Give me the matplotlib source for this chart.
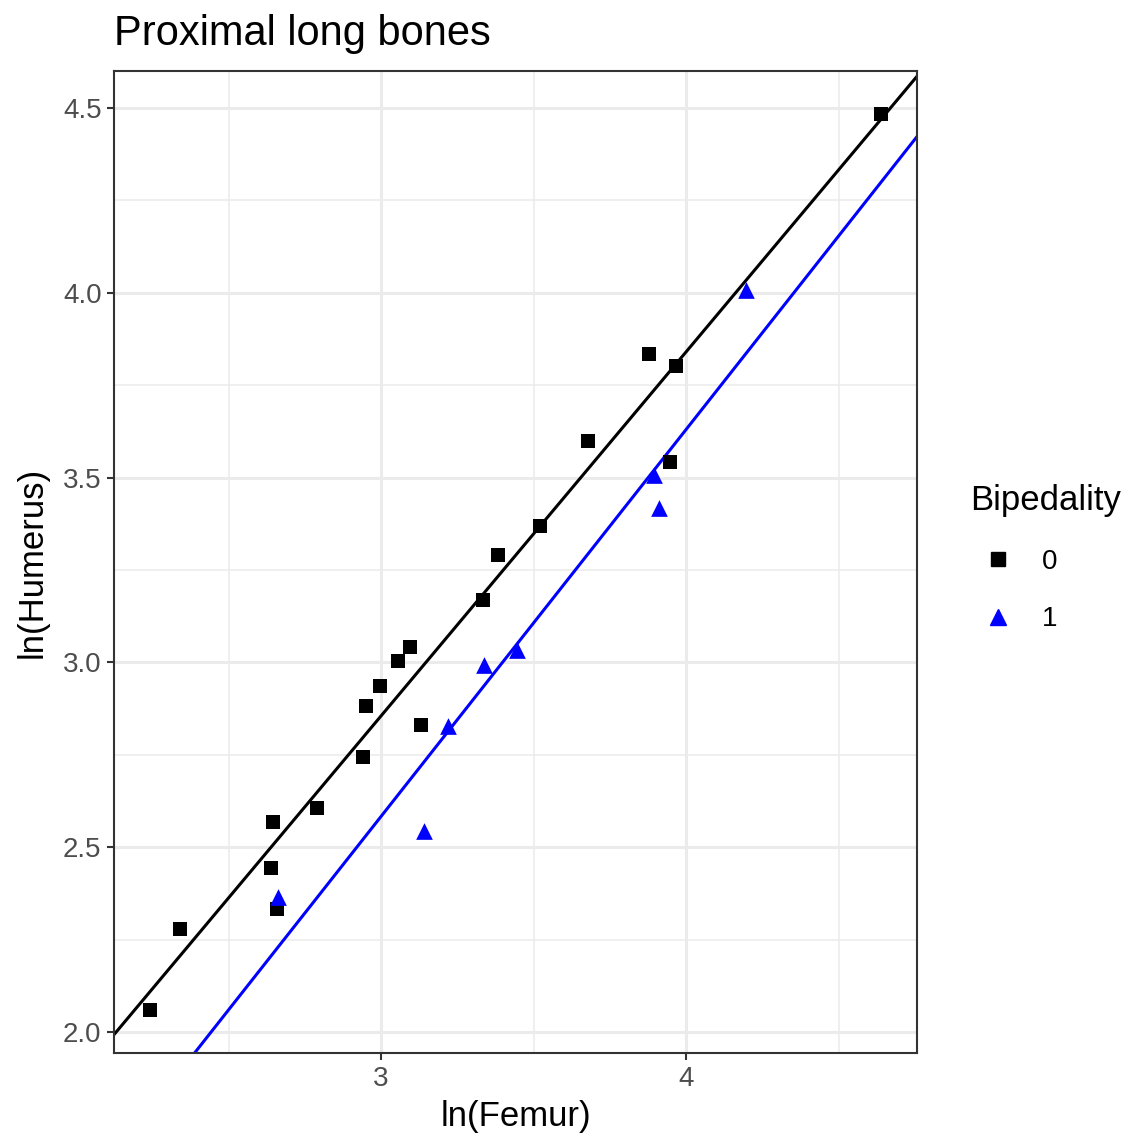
import numpy as np
import matplotlib.pyplot as plt
from matplotlib.lines import Line2D

plt.rcParams['font.family'] = ['Liberation Sans', 'DejaVu Sans']

# --- data ---
femur_0 = [2.243, 2.341, 2.646, 2.639, 2.659, 2.790, 2.941, 2.951, 2.997, 3.056,
           3.095, 3.131, 3.334, 3.384, 3.521, 3.679, 3.879, 3.967, 3.948, 4.639]
humerus_0 = [2.060, 2.279, 2.568, 2.444, 2.333, 2.606, 2.744, 2.882, 2.936, 3.004,
             3.042, 2.831, 3.169, 3.291, 3.369, 3.599, 3.834, 3.802, 3.542, 4.484]
femur_1 = [2.662, 3.141, 3.220, 3.338, 3.446, 3.895, 3.911, 4.197]
humerus_1 = [2.365, 2.544, 2.828, 2.993, 3.034, 3.507, 3.418, 4.008]

# fitted lines (intercept, slope) per group
fit_0 = (-0.100, 0.985)
fit_1 = (-0.558, 1.047)

x_lim = (2.1246, 4.757)
y_lim = (1.943, 4.600)

fig = plt.figure(figsize=(11.34, 11.42), dpi=100)
ax = fig.add_axes([114/1134, 89/1142, 803/1134, 982/1142])

# --- grid (theme_bw look) ---
for v in [2.5, 3.5, 4.5]:
    ax.axvline(v, color='#EBEBEB', lw=1.1, zorder=0)
for v in [3, 4]:
    ax.axvline(v, color='#EBEBEB', lw=2.2, zorder=0)
for v in np.arange(2.25, 4.6, 0.5):
    ax.axhline(v, color='#EBEBEB', lw=1.1, zorder=0)
for v in np.arange(2.0, 4.6, 0.5):
    ax.axhline(v, color='#EBEBEB', lw=2.2, zorder=0)

# --- regression lines ---
xs = np.array(x_lim)
ax.plot(xs, fit_0[0] + fit_0[1] * xs, color='black', lw=2.2, zorder=2)
ax.plot(xs, fit_1[0] + fit_1[1] * xs, color='#0000FF', lw=2.2, zorder=2)

# --- points ---
ax.scatter(femur_0, humerus_0, marker='s', s=9.5**2, color='black', lw=0, zorder=3)
ax.scatter(femur_1, humerus_1, marker='^', s=12**2, color='#0000FF', lw=0, zorder=3)

ax.set_xlim(x_lim)
ax.set_ylim(y_lim)
ax.set_xticks([3, 4])
ax.set_xticklabels(['3', '4'])
ax.set_yticks([2.0, 2.5, 3.0, 3.5, 4.0, 4.5])
ax.set_yticklabels(['2.0', '2.5', '3.0', '3.5', '4.0', '4.5'])
ax.tick_params(length=5, width=1.5, color='#333333', labelcolor='#4D4D4D',
               labelsize=20, pad=4)
for sp in ax.spines.values():
    sp.set_color('#333333')
    sp.set_linewidth(1.5)

ax.set_xlabel('ln(Femur)', fontsize=25, labelpad=6)
ax.set_ylabel('ln(Humerus)', fontsize=25, labelpad=10)
ax.set_title('Proximal long bones', fontsize=30, loc='left', pad=19)

# --- legend ---
handles = [
    Line2D([], [], marker='s', ls='none', color='black', markersize=9.5),
    Line2D([], [], marker='^', ls='none', color='#0000FF', markersize=11.5),
]
leg = fig.legend(handles, ['0', '1'], title='Bipedality', loc='center left',
                 bbox_to_anchor=(956/1134, 1 - 558/1142), frameon=False,
                 fontsize=20, title_fontsize=25, handletextpad=0.6,
                 labelspacing=1.15, borderpad=0)
leg._legend_box.align = 'left'

fig.savefig('out.png', dpi=100)
